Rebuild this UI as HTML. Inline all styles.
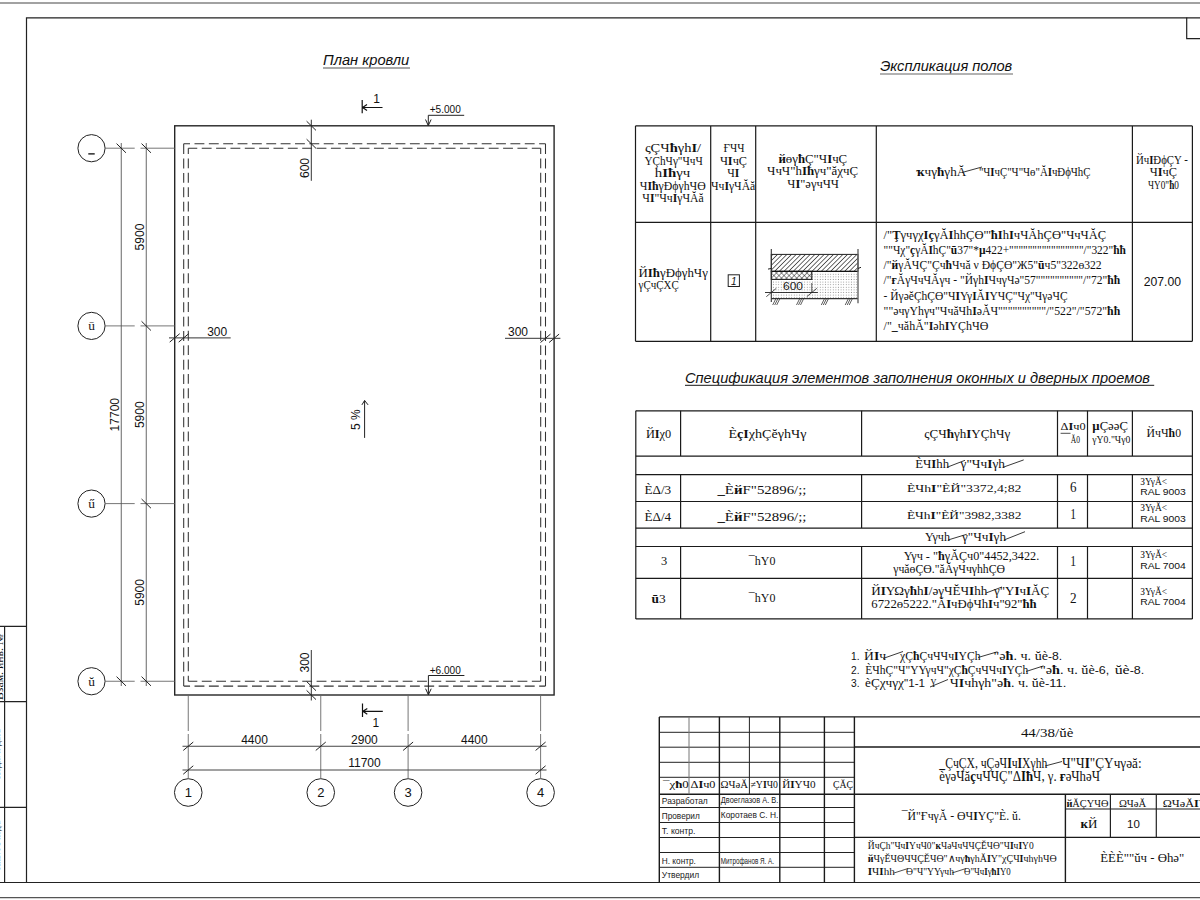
<!DOCTYPE html>
<html><head><meta charset="utf-8">
<style>
html,body{margin:0;padding:0;background:#fff;width:1200px;height:900px;overflow:hidden}
svg{display:block}
.s{font-family:"Liberation Sans",sans-serif}
.r{font-family:"Liberation Serif",serif}
.i{font-style:italic}
.b{font-weight:bold}
</style></head>
<body>
<svg width="1200" height="900" viewBox="0 0 1200 900">
<rect width="1200" height="900" fill="#fff"/>

<line x1="0" y1="3" x2="1200" y2="3" stroke="#a2a2a2" stroke-width="1.9" />
<line x1="0" y1="897.6" x2="1200" y2="897.6" stroke="#555" stroke-width="1.1" />
<g stroke="#222" stroke-width="1.2" fill="none">
<path d="M1214 17.9 H26.5 V882.5"/>
<path d="M0 882.5 H1214"/>
<path d="M1186.7 17.6 V38.7 H1214"/>
<path d="M4.6 626.4 V882.3 M0 626.4 H26.5 M0 701.7 H26.5 M0 807.3 H26.5"/>
</g>
<rect x="174.7" y="125.8" width="379.4" height="569.2" fill="none" stroke="#262626" stroke-width="1.4"/>
<line x1="183.7" y1="143.8" x2="545.5" y2="143.8" stroke="#333" stroke-width="1.05" stroke-dasharray="6.30 4.50 9.86 4.50 9.86 4.50 9.86 4.50 9.86 4.50 9.86 4.50 9.86 4.50 9.86 4.50 9.86 4.50 9.86 4.50 9.86 4.50 9.86 4.50 9.86 4.50 9.86 4.50 9.86 4.50 9.86 4.50 9.86 4.50 9.86 4.50 9.86 4.50 9.86 4.50 9.86 4.50 9.86 4.50 9.86 4.50 9.86 4.50 9.86 4.50 6.30 50.00"/>
<line x1="183.7" y1="143.8" x2="183.7" y2="686.1" stroke="#333" stroke-width="1.05" stroke-dasharray="10.20 4.51 9.87 4.51 9.87 4.51 9.87 4.51 9.87 4.51 9.87 4.51 9.87 4.51 9.87 4.51 9.87 4.51 9.87 4.51 9.87 4.51 9.87 4.51 9.87 4.51 9.87 4.51 9.87 4.51 9.87 4.51 9.87 4.51 9.87 4.51 9.87 4.51 9.87 4.51 9.87 4.51 9.87 4.51 9.87 4.51 9.87 4.51 9.87 4.51 9.87 4.51 9.87 4.51 9.87 4.51 9.87 4.51 9.87 4.51 9.87 4.51 9.87 4.51 9.87 4.51 9.87 4.51 9.87 4.51 9.87 4.51 9.87 4.51 10.20 50.00"/>
<line x1="545.5" y1="143.8" x2="545.5" y2="686.1" stroke="#333" stroke-width="1.05" stroke-dasharray="10.30 4.51 9.86 4.51 9.86 4.51 9.86 4.51 9.86 4.51 9.86 4.51 9.86 4.51 9.86 4.51 9.86 4.51 9.86 4.51 9.86 4.51 9.86 4.51 9.86 4.51 9.86 4.51 9.86 4.51 9.86 4.51 9.86 4.51 9.86 4.51 9.86 4.51 9.86 4.51 9.86 4.51 9.86 4.51 9.86 4.51 9.86 4.51 9.86 4.51 9.86 4.51 9.86 4.51 9.86 4.51 9.86 4.51 9.86 4.51 9.86 4.51 9.86 4.51 9.86 4.51 9.86 4.51 9.86 4.51 9.86 4.51 9.86 4.51 10.30 50.00"/>
<line x1="183.7" y1="686.1" x2="545.5" y2="686.1" stroke="#333" stroke-width="1.05" stroke-dasharray="6.35 4.50 9.86 4.50 9.86 4.50 9.86 4.50 9.86 4.50 9.86 4.50 9.86 4.50 9.86 4.50 9.86 4.50 9.86 4.50 9.86 4.50 9.86 4.50 9.86 4.50 9.86 4.50 9.86 4.50 9.86 4.50 9.86 4.50 9.86 4.50 9.86 4.50 9.86 4.50 9.86 4.50 9.86 4.50 9.86 4.50 9.86 4.50 9.86 4.50 6.35 50.00"/>
<line x1="188.3" y1="148.3" x2="540.7" y2="148.3" stroke="#333" stroke-width="1.05" stroke-dasharray="8.95 4.50 9.85 4.50 9.85 4.50 9.85 4.50 9.85 4.50 9.85 4.50 9.85 4.50 9.85 4.50 9.85 4.50 9.85 4.50 9.85 4.50 9.85 4.50 9.85 4.50 9.85 4.50 9.85 4.50 9.85 4.50 9.85 4.50 9.85 4.50 9.85 4.50 9.85 4.50 9.85 4.50 9.85 4.50 9.85 4.50 9.85 4.50 8.95 50.00"/>
<line x1="188.3" y1="148.3" x2="188.3" y2="681.2" stroke="#333" stroke-width="1.05" stroke-dasharray="5.60 4.51 9.86 4.51 9.86 4.51 9.86 4.51 9.86 4.51 9.86 4.51 9.86 4.51 9.86 4.51 9.86 4.51 9.86 4.51 9.86 4.51 9.86 4.51 9.86 4.51 9.86 4.51 9.86 4.51 9.86 4.51 9.86 4.51 9.86 4.51 9.86 4.51 9.86 4.51 9.86 4.51 9.86 4.51 9.86 4.51 9.86 4.51 9.86 4.51 9.86 4.51 9.86 4.51 9.86 4.51 9.86 4.51 9.86 4.51 9.86 4.51 9.86 4.51 9.86 4.51 9.86 4.51 9.86 4.51 9.86 4.51 9.86 4.51 5.60 50.00"/>
<line x1="540.7" y1="148.3" x2="540.7" y2="681.2" stroke="#333" stroke-width="1.05" stroke-dasharray="5.70 4.50 9.86 4.50 9.86 4.50 9.86 4.50 9.86 4.50 9.86 4.50 9.86 4.50 9.86 4.50 9.86 4.50 9.86 4.50 9.86 4.50 9.86 4.50 9.86 4.50 9.86 4.50 9.86 4.50 9.86 4.50 9.86 4.50 9.86 4.50 9.86 4.50 9.86 4.50 9.86 4.50 9.86 4.50 9.86 4.50 9.86 4.50 9.86 4.50 9.86 4.50 9.86 4.50 9.86 4.50 9.86 4.50 9.86 4.50 9.86 4.50 9.86 4.50 9.86 4.50 9.86 4.50 9.86 4.50 9.86 4.50 9.86 4.50 5.70 50.00"/>
<line x1="188.3" y1="681.2" x2="540.7" y2="681.2" stroke="#333" stroke-width="1.05" stroke-dasharray="9.00 4.50 9.85 4.50 9.85 4.50 9.85 4.50 9.85 4.50 9.85 4.50 9.85 4.50 9.85 4.50 9.85 4.50 9.85 4.50 9.85 4.50 9.85 4.50 9.85 4.50 9.85 4.50 9.85 4.50 9.85 4.50 9.85 4.50 9.85 4.50 9.85 4.50 9.85 4.50 9.85 4.50 9.85 4.50 9.85 4.50 9.85 4.50 9.00 50.00"/>
<circle cx="91.5" cy="148.2" r="13.6" fill="none" stroke="#222" stroke-width="1"/>
<line x1="105.1" y1="148.2" x2="134.7" y2="148.2" stroke="#666" stroke-width="0.9" />
<line x1="140.5" y1="148.2" x2="174.7" y2="148.2" stroke="#666" stroke-width="0.9" />
<circle cx="91.5" cy="325.9" r="13.6" fill="none" stroke="#222" stroke-width="1"/>
<line x1="105.1" y1="325.9" x2="134.7" y2="325.9" stroke="#666" stroke-width="0.9" />
<line x1="140.5" y1="325.9" x2="174.7" y2="325.9" stroke="#666" stroke-width="0.9" />
<circle cx="91.5" cy="503.6" r="13.6" fill="none" stroke="#222" stroke-width="1"/>
<line x1="105.1" y1="503.6" x2="134.7" y2="503.6" stroke="#666" stroke-width="0.9" />
<line x1="140.5" y1="503.6" x2="174.7" y2="503.6" stroke="#666" stroke-width="0.9" />
<circle cx="91.5" cy="681.25" r="13.6" fill="none" stroke="#222" stroke-width="1"/>
<line x1="105.1" y1="681.25" x2="134.7" y2="681.25" stroke="#666" stroke-width="0.9" />
<line x1="140.5" y1="681.25" x2="174.7" y2="681.25" stroke="#666" stroke-width="0.9" />
<rect x="88.3" y="153" width="6.4" height="1.7" fill="#444"/>
<text x="91.5" y="330.2" class="r" font-size="13.5" text-anchor="middle" fill="#1a1a1a" >ū</text>
<text x="91.5" y="507.90000000000003" class="r" font-size="13.5" text-anchor="middle" fill="#1a1a1a" >ű</text>
<text x="91.5" y="685.55" class="r" font-size="13.5" text-anchor="middle" fill="#1a1a1a" >ŭ</text>
<line x1="121.25" y1="143" x2="121.25" y2="686" stroke="#555" stroke-width="0.9" />
<line x1="146.25" y1="143" x2="146.25" y2="686" stroke="#555" stroke-width="0.9" />
<line x1="116.55" y1="143.6" x2="125.95" y2="152.79999999999998" stroke="#222" stroke-width="1"/>
<line x1="116.55" y1="676.65" x2="125.95" y2="685.85" stroke="#222" stroke-width="1"/>
<line x1="141.55" y1="143.6" x2="150.95" y2="152.79999999999998" stroke="#222" stroke-width="1"/>
<line x1="141.55" y1="321.29999999999995" x2="150.95" y2="330.5" stroke="#222" stroke-width="1"/>
<line x1="141.55" y1="499.0" x2="150.95" y2="508.20000000000005" stroke="#222" stroke-width="1"/>
<line x1="141.55" y1="676.65" x2="150.95" y2="685.85" stroke="#222" stroke-width="1"/>
<text transform="translate(114.7,414.7) rotate(-90)" x="0" y="0" class="s" font-size="12" text-anchor="middle" dominant-baseline="central" fill="#111">17700</text>
<text transform="translate(140.2,237.04999999999998) rotate(-90)" x="0" y="0" class="s" font-size="12" text-anchor="middle" dominant-baseline="central" fill="#111">5900</text>
<text transform="translate(140.2,414.75) rotate(-90)" x="0" y="0" class="s" font-size="12" text-anchor="middle" dominant-baseline="central" fill="#111">5900</text>
<text transform="translate(140.2,592.425) rotate(-90)" x="0" y="0" class="s" font-size="12" text-anchor="middle" dominant-baseline="central" fill="#111">5900</text>
<circle cx="188.25" cy="792.5" r="13.8" fill="none" stroke="#222" stroke-width="1"/>
<line x1="188.25" y1="695.7" x2="188.25" y2="731" stroke="#666" stroke-width="0.9" />
<line x1="188.25" y1="734" x2="188.25" y2="778.7" stroke="#666" stroke-width="0.9" />
<text x="188.25" y="797.2" class="s" font-size="13" text-anchor="middle" fill="#111" >1</text>
<circle cx="320.75" cy="792.5" r="13.8" fill="none" stroke="#222" stroke-width="1"/>
<line x1="320.75" y1="695.7" x2="320.75" y2="731" stroke="#666" stroke-width="0.9" />
<line x1="320.75" y1="734" x2="320.75" y2="778.7" stroke="#666" stroke-width="0.9" />
<text x="320.75" y="797.2" class="s" font-size="13" text-anchor="middle" fill="#111" >2</text>
<circle cx="408.1" cy="792.5" r="13.8" fill="none" stroke="#222" stroke-width="1"/>
<line x1="408.1" y1="695.7" x2="408.1" y2="731" stroke="#666" stroke-width="0.9" />
<line x1="408.1" y1="734" x2="408.1" y2="778.7" stroke="#666" stroke-width="0.9" />
<text x="408.1" y="797.2" class="s" font-size="13" text-anchor="middle" fill="#111" >3</text>
<circle cx="540.6" cy="792.5" r="13.8" fill="none" stroke="#222" stroke-width="1"/>
<line x1="540.6" y1="695.7" x2="540.6" y2="731" stroke="#666" stroke-width="0.9" />
<line x1="540.6" y1="734" x2="540.6" y2="778.7" stroke="#666" stroke-width="0.9" />
<text x="540.6" y="797.2" class="s" font-size="13" text-anchor="middle" fill="#111" >4</text>
<line x1="182.5" y1="746.25" x2="546.5" y2="746.25" stroke="#444" stroke-width="1" />
<line x1="182.5" y1="770" x2="546.5" y2="770" stroke="#444" stroke-width="1" />
<line x1="183.25" y1="750.45" x2="193.25" y2="742.05" stroke="#222" stroke-width="1"/>
<line x1="315.75" y1="750.45" x2="325.75" y2="742.05" stroke="#222" stroke-width="1"/>
<line x1="403.1" y1="750.45" x2="413.1" y2="742.05" stroke="#222" stroke-width="1"/>
<line x1="535.6" y1="750.45" x2="545.6" y2="742.05" stroke="#222" stroke-width="1"/>
<line x1="183.25" y1="774.2" x2="193.25" y2="765.8" stroke="#222" stroke-width="1"/>
<line x1="535.6" y1="774.2" x2="545.6" y2="765.8" stroke="#222" stroke-width="1"/>
<text x="254.5" y="743.5" class="s" font-size="12" text-anchor="middle" fill="#111" >4400</text>
<text x="364.425" y="743.5" class="s" font-size="12" text-anchor="middle" fill="#111" >2900</text>
<text x="474.35" y="743.5" class="s" font-size="12" text-anchor="middle" fill="#111" >4400</text>
<text x="364.425" y="767" class="s" font-size="12" text-anchor="middle" fill="#111" >11700</text>
<line x1="311.3" y1="119.7" x2="311.3" y2="180.8" stroke="#333" stroke-width="1" />
<line x1="306.6" y1="121.2" x2="316.0" y2="130.4" stroke="#222" stroke-width="1"/>
<line x1="306.6" y1="139.20000000000002" x2="316.0" y2="148.4" stroke="#222" stroke-width="1"/>
<text transform="translate(305.3,168) rotate(-90)" x="0" y="0" class="s" font-size="12" text-anchor="middle" dominant-baseline="central" fill="#111">600</text>
<line x1="311.3" y1="650" x2="311.3" y2="700.5" stroke="#333" stroke-width="1" />
<line x1="306.6" y1="681.5" x2="316.0" y2="690.7" stroke="#222" stroke-width="1"/>
<line x1="306.6" y1="690.4" x2="316.0" y2="699.6" stroke="#222" stroke-width="1"/>
<text transform="translate(305.3,662.5) rotate(-90)" x="0" y="0" class="s" font-size="12" text-anchor="middle" dominant-baseline="central" fill="#111">300</text>
<line x1="169" y1="337.9" x2="230.7" y2="337.9" stroke="#333" stroke-width="1" />
<line x1="169.7" y1="342.09999999999997" x2="179.7" y2="333.7" stroke="#222" stroke-width="1"/>
<line x1="178.7" y1="342.09999999999997" x2="188.7" y2="333.7" stroke="#222" stroke-width="1"/>
<text x="207.2" y="336" class="s" font-size="12" text-anchor="start" fill="#111" >300</text>
<line x1="505" y1="338.3" x2="560.4" y2="338.3" stroke="#333" stroke-width="1" />
<line x1="540.5" y1="342.5" x2="550.5" y2="334.1" stroke="#222" stroke-width="1"/>
<line x1="549.1" y1="342.5" x2="559.1" y2="334.1" stroke="#222" stroke-width="1"/>
<text x="508" y="335.8" class="s" font-size="12" text-anchor="start" fill="#111" >300</text>
<g stroke="#111" stroke-width="1.2" fill="none">
<path d="M362.2 100 V113.3 M362.2 107.5 H382.5 M367 104.6 L362.6 107.5 L367 110.4"/>
<path d="M362.5 703.6 V717 M362.5 711.3 H382.8 M367.3 708.4 L362.9 711.3 L367.3 714.2"/>
</g>
<text x="373.3" y="103.2" class="s" font-size="12" text-anchor="start" fill="#111" >1</text>
<text x="372.6" y="726.7" class="s" font-size="12" text-anchor="start" fill="#111" >1</text>
<g stroke="#222" stroke-width="1" fill="none">
<path d="M464.2 115.3 H428.3 V125.6 M425.5 119.5 L428.3 125.6 L431.1 119.5"/>
<path d="M464.4 675.5 H428.4 V694.8 M425.6 688.7 L428.4 694.8 L431.2 688.7"/>
</g>
<text x="429.7" y="113.3" class="s" font-size="11" fill="#111" text-anchor="start" textLength="31.1" lengthAdjust="spacingAndGlyphs">+5.000</text>
<text x="429.7" y="673.8" class="s" font-size="11" fill="#111" text-anchor="start" textLength="31.1" lengthAdjust="spacingAndGlyphs">+6.000</text>
<path d="M364.6 437.9 V400.5 M361.9 404.9 L364.6 400.5 L368.1 404.9" stroke="#222" stroke-width="1" fill="none"/>
<text transform="translate(356,419.7) rotate(-90)" x="0" y="0" class="s" font-size="12" text-anchor="middle" dominant-baseline="central" fill="#111">5 %</text>
<text x="323" y="65" class="s i" font-size="14.6" fill="#111" text-anchor="start" textLength="86.2" lengthAdjust="spacingAndGlyphs">План кровли</text>
<line x1="323" y1="68" x2="410" y2="68" stroke="#8c8c8c" stroke-width="1.6" />
<text x="880.2" y="70.6" class="s i" font-size="14.6" fill="#111" text-anchor="start" textLength="132" lengthAdjust="spacingAndGlyphs">Экспликация полов</text>
<line x1="880" y1="74" x2="1013" y2="74" stroke="#999" stroke-width="1.6" />
<line x1="635.5" y1="125.9" x2="635.5" y2="341.3" stroke="#1a1a1a" stroke-width="1.2"/>
<line x1="710.7" y1="125.9" x2="710.7" y2="341.3" stroke="#1a1a1a" stroke-width="1.2"/>
<line x1="755.7" y1="125.9" x2="755.7" y2="341.3" stroke="#1a1a1a" stroke-width="1.2"/>
<line x1="876.3" y1="125.9" x2="876.3" y2="341.3" stroke="#1a1a1a" stroke-width="1.2"/>
<line x1="1132.4" y1="125.9" x2="1132.4" y2="341.3" stroke="#1a1a1a" stroke-width="1.2"/>
<line x1="1192.4" y1="125.9" x2="1192.4" y2="341.3" stroke="#1a1a1a" stroke-width="1.2"/>
<line x1="635.5" y1="125.9" x2="1192.4" y2="125.9" stroke="#1a1a1a" stroke-width="1.2"/>
<line x1="635.5" y1="222.4" x2="1192.4" y2="222.4" stroke="#1a1a1a" stroke-width="1.2"/>
<line x1="635.5" y1="341.3" x2="1192.4" y2="341.3" stroke="#1a1a1a" stroke-width="1.2"/>
<text x="644.9" y="152.2" class="r" font-size="12" fill="#111" text-anchor="start" textLength="56.2" lengthAdjust="spacingAndGlyphs">ςÇЧ<tspan font-weight="bold">ħ</tspan>γh<tspan font-weight="bold">I</tspan>/</text>
<text x="644.4" y="164.7" class="r" font-size="12" fill="#111" text-anchor="start" textLength="58.3" lengthAdjust="spacingAndGlyphs">ΥÇhЧγ"ЧчЧ</text>
<text x="654.8" y="177.2" class="r" font-size="12" fill="#111" text-anchor="start" textLength="35.4" lengthAdjust="spacingAndGlyphs">h<tspan font-weight="bold">I</tspan><tspan font-weight="bold">ħ</tspan>γч</text>
<text x="639.7" y="189.7" class="r" font-size="12" fill="#111" text-anchor="start" textLength="66.1" lengthAdjust="spacingAndGlyphs">Ч<tspan font-weight="bold">I</tspan><tspan font-weight="bold">ħ</tspan>γÐϕγhЧӨ</text>
<text x="642.3" y="201.7" class="r" font-size="12" fill="#111" text-anchor="start" textLength="61.4" lengthAdjust="spacingAndGlyphs">Ч<tspan font-weight="bold">I</tspan>"Чч<tspan font-weight="bold">I</tspan>γЧĂă</text>
<text x="723.5" y="152.2" class="r" font-size="12" fill="#111" text-anchor="start" textLength="20.9" lengthAdjust="spacingAndGlyphs">ҒЧЧ</text>
<text x="719.9" y="164.7" class="r" font-size="12" fill="#111" text-anchor="start" textLength="27.1" lengthAdjust="spacingAndGlyphs">Ч<tspan font-weight="bold">I</tspan>чÇ</text>
<text x="727.2" y="177.2" class="r" font-size="12" fill="#111" text-anchor="start" textLength="12" lengthAdjust="spacingAndGlyphs">Ч<tspan font-weight="bold">I</tspan></text>
<text x="711" y="189.7" class="r" font-size="12" fill="#111" text-anchor="start" textLength="44.3" lengthAdjust="spacingAndGlyphs">Чч<tspan font-weight="bold">I</tspan>γЧĂă</text>
<text x="778.4" y="162.7" class="r" font-size="12" fill="#111" text-anchor="start" textLength="68.8" lengthAdjust="spacingAndGlyphs"><tspan font-weight="bold">й</tspan>өγ<tspan font-weight="bold">ħ</tspan>Ç"Ч<tspan font-weight="bold">I</tspan>чÇ</text>
<text x="767" y="175.2" class="r" font-size="12" fill="#111" text-anchor="start" textLength="91.1" lengthAdjust="spacingAndGlyphs">ЧчЧ"h<tspan font-weight="bold">I</tspan><tspan font-weight="bold">ħ</tspan>γч"ăχчÇ</text>
<text x="787.3" y="187.7" class="r" font-size="12" fill="#111" text-anchor="start" textLength="51.6" lengthAdjust="spacingAndGlyphs">Ч<tspan font-weight="bold">I</tspan>"əγчЧЧ</text>
<text x="916.3" y="175.6" class="r" font-size="12" fill="#111" text-anchor="start" textLength="49.9" lengthAdjust="spacingAndGlyphs"><tspan font-weight="bold">ҡ</tspan>чγ<tspan font-weight="bold">ħ</tspan>γhĂ</text>
<text x="978.9" y="175.6" class="r" font-size="12" fill="#111" text-anchor="start" textLength="111.6" lengthAdjust="spacingAndGlyphs">"Ч<tspan font-weight="bold">I</tspan>чÇ"Ч"Чө"Ă<tspan font-weight="bold">I</tspan>чÐϕЧhÇ</text>
<line x1="962" y1="172.5" x2="982" y2="167" stroke="#222" stroke-width="0.9" />
<text x="1135.9" y="163.6" class="r" font-size="12" fill="#111" text-anchor="start" textLength="51.9" lengthAdjust="spacingAndGlyphs">Йч<tspan font-weight="bold">I</tspan>ÐϕÇΥ -</text>
<text x="1149.8" y="176.4" class="r" font-size="12" fill="#111" text-anchor="start" textLength="27.2" lengthAdjust="spacingAndGlyphs">Ч<tspan font-weight="bold">I</tspan>чÇ</text>
<text x="1148.1" y="188.9" class="r" font-size="12" fill="#111" text-anchor="start" textLength="30.8" lengthAdjust="spacingAndGlyphs">ЧΥ0"<tspan font-weight="bold">ħ</tspan>0</text>
<text x="638.6" y="277.2" class="r" font-size="12" fill="#111" text-anchor="start" textLength="69.3" lengthAdjust="spacingAndGlyphs">Й<tspan font-weight="bold">I</tspan><tspan font-weight="bold">ħ</tspan>γÐϕγhЧγ</text>
<text x="638.6" y="289.2" class="r" font-size="12" fill="#111" text-anchor="start" textLength="40.1" lengthAdjust="spacingAndGlyphs">γÇчÇΧÇ</text>
<rect x="728.2" y="274.8" width="11.2" height="11.7" fill="none" stroke="#222" stroke-width="1"/>
<text x="733.8" y="284.6" class="s i" font-size="10" fill="#111" text-anchor="middle">1</text>
<text x="883.6" y="239.1" class="r" font-size="13" fill="#111" text-anchor="start" textLength="222.6" lengthAdjust="spacingAndGlyphs">/"<tspan font-weight="bold">Ţ</tspan>γчγχ<tspan font-weight="bold">I</tspan><tspan font-weight="bold">ç</tspan>γĂ<tspan font-weight="bold">I</tspan>hhÇӨ"'<tspan font-weight="bold">ħ</tspan><tspan font-weight="bold">I</tspan>h<tspan font-weight="bold">I</tspan>чЧĂhÇӨ"ЧчЧĂÇ</text>
<text x="883.6" y="254.2" class="r" font-size="13" fill="#111" text-anchor="start" textLength="242.3" lengthAdjust="spacingAndGlyphs">""Чχ"<tspan font-weight="bold">ç</tspan>γĂ<tspan font-weight="bold">I</tspan>hÇ"<tspan font-weight="bold">ū</tspan>37"*<tspan font-weight="bold">µ</tspan>422+""""""""""""""""/"322"<tspan font-weight="bold">ħ</tspan><tspan font-weight="bold">ħ</tspan></text>
<text x="883.6" y="269.3" class="r" font-size="13" fill="#111" text-anchor="start" textLength="218.1" lengthAdjust="spacingAndGlyphs">/"<tspan font-weight="bold">й</tspan>γĂЧÇ"Çч<tspan font-weight="bold">ħ</tspan>Ччă ν ÐϕÇӨ"Ж5"<tspan font-weight="bold">ū</tspan>ч5"322ө322</text>
<text x="883.6" y="284.4" class="r" font-size="13" fill="#111" text-anchor="start" textLength="236.6" lengthAdjust="spacingAndGlyphs">/"<tspan font-weight="bold">ғ</tspan>ĂγЧчЧĂγч - "Йγh<tspan font-weight="bold">I</tspan>ЧчγЧə"57""""""""""/"72"<tspan font-weight="bold">ħ</tspan><tspan font-weight="bold">ħ</tspan></text>
<text x="883.6" y="299.5" class="r" font-size="13" fill="#111" text-anchor="start" textLength="184.0" lengthAdjust="spacingAndGlyphs">- ЙγəĕÇhÇӨ"Ч<tspan font-weight="bold">I</tspan>Υγ<tspan font-weight="bold">I</tspan>Ă<tspan font-weight="bold">I</tspan>ΥЧÇ"Чχ"ЧγəЧÇ</text>
<text x="883.6" y="314.6" class="r" font-size="13" fill="#111" text-anchor="start" textLength="236.6" lengthAdjust="spacingAndGlyphs">""əчγΥhγч"ЧчăЧh<tspan font-weight="bold">I</tspan>əĂЧ""""""""""/"522"/"572"<tspan font-weight="bold">ħ</tspan><tspan font-weight="bold">ħ</tspan></text>
<text x="883.6" y="329.7" class="r" font-size="13" fill="#111" text-anchor="start" textLength="104.8" lengthAdjust="spacingAndGlyphs">/"<tspan font-weight="bold">_</tspan>чăhĂ"<tspan font-weight="bold">I</tspan>əh<tspan font-weight="bold">I</tspan>ΥÇhЧӨ</text>
<text x="1143.7" y="286" class="s" font-size="12.5" fill="#111" text-anchor="start" textLength="37.3" lengthAdjust="spacingAndGlyphs">207.00</text>
<defs><pattern id="hatch" width="3.3" height="3.3" patternUnits="userSpaceOnUse" patternTransform="rotate(45)"><line x1="0" y1="0" x2="0" y2="3.3" stroke="#1a1a1a" stroke-width="1.3"/></pattern><pattern id="cross" width="3.6" height="3.6" patternUnits="userSpaceOnUse" patternTransform="rotate(45)"><path d="M0 0 H3.6 M0 0 V3.6" stroke="#1a1a1a" stroke-width="1.0" fill="none"/></pattern><pattern id="dots" width="2.6" height="2.6" patternUnits="userSpaceOnUse"><rect x="0.8" y="0.8" width="0.9" height="0.9" fill="#888"/></pattern></defs>
<rect x="771.3" y="254.4" width="86.7" height="17" fill="url(#hatch)" stroke="#222" stroke-width="1"/>
<rect x="771.3" y="271.4" width="86.7" height="27.3" fill="url(#dots)"/>
<rect x="771.3" y="271.4" width="40.5" height="8" fill="#fff"/>
<rect x="771.3" y="271.4" width="40.5" height="8" fill="url(#cross)" stroke="#222" stroke-width="1.1"/>
<line x1="771.3" y1="271.4" x2="858" y2="271.4" stroke="#111" stroke-width="1.4"/>
<line x1="771.3" y1="298.7" x2="858" y2="298.7" stroke="#333" stroke-width="1.2"/>
<line x1="771.3" y1="249.1" x2="771.3" y2="302" stroke="#333" stroke-width="1.1"/>
<line x1="858" y1="249.1" x2="858" y2="303.3" stroke="#666" stroke-width="1.4"/>
<path d="M772.7 305 L775.7 299 M774.7 305 L777.7 299 M776.7 305 L779.7 299" stroke="#333" stroke-width="0.8"/>
<path d="M796.5 305 L799.5 299 M798.5 305 L801.5 299 M800.5 305 L803.5 299" stroke="#333" stroke-width="0.8"/>
<path d="M821.3 305 L824.3 299 M823.3 305 L826.3 299 M825.3 305 L828.3 299" stroke="#333" stroke-width="0.8"/>
<path d="M845.2 305 L848.2 299 M847.2 305 L850.2 299 M849.2 305 L852.2 299" stroke="#333" stroke-width="0.8"/>
<line x1="765" y1="292.5" x2="817.8" y2="292.5" stroke="#222" stroke-width="0.9" />
<line x1="766.3" y1="296.7" x2="776.3" y2="288.3" stroke="#222" stroke-width="0.8"/>
<line x1="806.8" y1="296.7" x2="816.8" y2="288.3" stroke="#222" stroke-width="0.8"/>
<line x1="811.8" y1="283" x2="811.8" y2="293" stroke="#222" stroke-width="0.8"/>
<text x="783" y="290" class="s" font-size="10.5" fill="#222" text-anchor="start" textLength="20" lengthAdjust="spacingAndGlyphs">600</text>
<path d="M771 268.5 l-3 0.6 M858 268.5 l3 -1.2" stroke="#222" stroke-width="1" fill="none"/>
<text x="685" y="382.6" class="s i" font-size="15" fill="#111" text-anchor="start" textLength="465" lengthAdjust="spacingAndGlyphs">Спецификация элементов заполнения оконных и дверных проемов</text>
<line x1="685" y1="385.4" x2="1154.2" y2="385.4" stroke="#444" stroke-width="1.1" />
<line x1="635.8" y1="410.8" x2="1192.4" y2="410.8" stroke="#1a1a1a" stroke-width="1.2"/>
<line x1="635.8" y1="456.1" x2="1192.4" y2="456.1" stroke="#1a1a1a" stroke-width="1.2"/>
<line x1="635.8" y1="474.6" x2="1192.4" y2="474.6" stroke="#1a1a1a" stroke-width="1.2"/>
<line x1="635.8" y1="501.5" x2="1192.4" y2="501.5" stroke="#1a1a1a" stroke-width="1.2"/>
<line x1="635.8" y1="528.1" x2="1192.4" y2="528.1" stroke="#1a1a1a" stroke-width="1.2"/>
<line x1="635.8" y1="546.5" x2="1192.4" y2="546.5" stroke="#1a1a1a" stroke-width="1.2"/>
<line x1="635.8" y1="578.3" x2="1192.4" y2="578.3" stroke="#1a1a1a" stroke-width="1.2"/>
<line x1="635.8" y1="618.9" x2="1192.4" y2="618.9" stroke="#1a1a1a" stroke-width="1.2"/>
<line x1="635.8" y1="410.8" x2="635.8" y2="618.9" stroke="#1a1a1a" stroke-width="1.2"/>
<line x1="1192.4" y1="410.8" x2="1192.4" y2="618.9" stroke="#1a1a1a" stroke-width="1.2"/>
<line x1="680.6" y1="410.8" x2="680.6" y2="456.1" stroke="#1a1a1a" stroke-width="1.2"/>
<line x1="680.6" y1="474.6" x2="680.6" y2="528.1" stroke="#1a1a1a" stroke-width="1.2"/>
<line x1="680.6" y1="546.5" x2="680.6" y2="618.9" stroke="#1a1a1a" stroke-width="1.2"/>
<line x1="861.6" y1="410.8" x2="861.6" y2="456.1" stroke="#1a1a1a" stroke-width="1.2"/>
<line x1="861.6" y1="474.6" x2="861.6" y2="528.1" stroke="#1a1a1a" stroke-width="1.2"/>
<line x1="861.6" y1="546.5" x2="861.6" y2="618.9" stroke="#1a1a1a" stroke-width="1.2"/>
<line x1="1057.5" y1="410.8" x2="1057.5" y2="456.1" stroke="#1a1a1a" stroke-width="1.2"/>
<line x1="1057.5" y1="474.6" x2="1057.5" y2="528.1" stroke="#1a1a1a" stroke-width="1.2"/>
<line x1="1057.5" y1="546.5" x2="1057.5" y2="618.9" stroke="#1a1a1a" stroke-width="1.2"/>
<line x1="1087.5" y1="410.8" x2="1087.5" y2="456.1" stroke="#1a1a1a" stroke-width="1.2"/>
<line x1="1087.5" y1="474.6" x2="1087.5" y2="528.1" stroke="#1a1a1a" stroke-width="1.2"/>
<line x1="1087.5" y1="546.5" x2="1087.5" y2="618.9" stroke="#1a1a1a" stroke-width="1.2"/>
<line x1="1132.4" y1="410.8" x2="1132.4" y2="456.1" stroke="#1a1a1a" stroke-width="1.2"/>
<line x1="1132.4" y1="474.6" x2="1132.4" y2="528.1" stroke="#1a1a1a" stroke-width="1.2"/>
<line x1="1132.4" y1="546.5" x2="1132.4" y2="618.9" stroke="#1a1a1a" stroke-width="1.2"/>
<text x="645.9" y="438.1" class="r" font-size="13" fill="#111" text-anchor="start" textLength="25.3" lengthAdjust="spacingAndGlyphs">Й<tspan font-weight="bold">I</tspan>χ0</text>
<text x="728.4" y="438.1" class="r" font-size="13" fill="#111" text-anchor="start" textLength="78.1" lengthAdjust="spacingAndGlyphs">È<tspan font-weight="bold">ç</tspan><tspan font-weight="bold">I</tspan>χhÇĕγhЧγ</text>
<text x="924.3" y="437.9" class="r" font-size="13" fill="#111" text-anchor="start" textLength="86" lengthAdjust="spacingAndGlyphs">ςÇЧ<tspan font-weight="bold">ħ</tspan>γh<tspan font-weight="bold">I</tspan>ΥÇhЧγ</text>
<text x="1060.6" y="430.1" class="r" font-size="11" fill="#111" text-anchor="start" textLength="25" lengthAdjust="spacingAndGlyphs">Δ<tspan font-weight="bold">I</tspan>ч0</text>
<line x1="1060.6" y1="433.3" x2="1070.5" y2="433.3" stroke="#222" stroke-width="0.8" />
<text x="1070.8" y="442.9" class="r" font-size="10" fill="#111" text-anchor="start" textLength="9.2" lengthAdjust="spacingAndGlyphs">Ă0</text>
<text x="1092.3" y="430.1" class="r" font-size="11.5" fill="#111" text-anchor="start" textLength="35.6" lengthAdjust="spacingAndGlyphs"><tspan font-weight="bold">µ</tspan>ÇəəÇ</text>
<text x="1092.3" y="442.6" class="r" font-size="11" fill="#111" text-anchor="start" textLength="38" lengthAdjust="spacingAndGlyphs">γΥ0."Чγ0</text>
<text x="1146.6" y="437.1" class="r" font-size="13" fill="#111" text-anchor="start" textLength="34.4" lengthAdjust="spacingAndGlyphs">ЙчЧ<tspan font-weight="bold">ħ</tspan>0</text>
<text x="915.2" y="468.4" class="r" font-size="11.5" fill="#111" text-anchor="start" textLength="34" lengthAdjust="spacingAndGlyphs">ÈЧ<tspan font-weight="bold">I</tspan>hh</text>
<text x="960.5" y="468.4" class="r" font-size="11.5" fill="#111" text-anchor="start" textLength="44.5" lengthAdjust="spacingAndGlyphs">γ"Чч<tspan font-weight="bold">I</tspan>γh</text>
<line x1="947" y1="467.3" x2="965" y2="460.3" stroke="#222" stroke-width="0.9" />
<line x1="1003" y1="467.3" x2="1023.7" y2="459.9" stroke="#222" stroke-width="0.9" />
<text x="644.4" y="493.8" class="r" font-size="13" fill="#111" text-anchor="start" textLength="26.8" lengthAdjust="spacingAndGlyphs">ÈΔ/3</text>
<text x="717.4" y="493.8" class="r" font-size="13" fill="#111" text-anchor="start" textLength="89.1" lengthAdjust="spacingAndGlyphs"><tspan font-weight="bold">_</tspan>È<tspan font-weight="bold">й</tspan>F"52896/;;</text>
<text x="906.9" y="491.5" class="r" font-size="11.2" fill="#111" text-anchor="start" textLength="114.5" lengthAdjust="spacingAndGlyphs">ÈЧh<tspan font-weight="bold">I</tspan>"ÈЙ"3372,4;82</text>
<text x="1070" y="491.7" class="r" font-size="14" fill="#111" text-anchor="start" textLength="6.5" lengthAdjust="spacingAndGlyphs">6</text>
<text x="1140.2" y="484.5" class="r" font-size="9.5" fill="#111" text-anchor="start" textLength="26.8" lengthAdjust="spacingAndGlyphs">ЗΥγĂ&lt;</text>
<text x="1140.2" y="495.2" class="s" font-size="9.3" fill="#111" text-anchor="start" textLength="45.7" lengthAdjust="spacingAndGlyphs">RAL 9003</text>
<text x="644.4" y="520.6" class="r" font-size="13" fill="#111" text-anchor="start" textLength="26.8" lengthAdjust="spacingAndGlyphs">ÈΔ/4</text>
<text x="717.4" y="520.6" class="r" font-size="13" fill="#111" text-anchor="start" textLength="89.1" lengthAdjust="spacingAndGlyphs"><tspan font-weight="bold">_</tspan>È<tspan font-weight="bold">й</tspan>F"52896/;;</text>
<text x="906.9" y="519" class="r" font-size="11.2" fill="#111" text-anchor="start" textLength="114.5" lengthAdjust="spacingAndGlyphs">ÈЧh<tspan font-weight="bold">I</tspan>"ÈЙ"3982,3382</text>
<text x="1070.3" y="518.6" class="r" font-size="14" fill="#111" text-anchor="start" textLength="5.8" lengthAdjust="spacingAndGlyphs">1</text>
<text x="1140.2" y="511.1" class="r" font-size="9.5" fill="#111" text-anchor="start" textLength="26.8" lengthAdjust="spacingAndGlyphs">ЗΥγĂ&lt;</text>
<text x="1140.2" y="521.8" class="s" font-size="9.3" fill="#111" text-anchor="start" textLength="45.7" lengthAdjust="spacingAndGlyphs">RAL 9003</text>
<text x="925" y="541" class="r" font-size="11.5" fill="#111" text-anchor="start" textLength="25" lengthAdjust="spacingAndGlyphs">Υγчh</text>
<text x="962" y="541" class="r" font-size="11.5" fill="#111" text-anchor="start" textLength="44" lengthAdjust="spacingAndGlyphs">γ"Чч<tspan font-weight="bold">I</tspan>γh</text>
<line x1="948" y1="540" x2="966.7" y2="534.3" stroke="#222" stroke-width="0.9" />
<line x1="1004" y1="540" x2="1025" y2="531.7" stroke="#222" stroke-width="0.9" />
<text x="660.9" y="564.8" class="r" font-size="13" fill="#111" text-anchor="start" textLength="6.2" lengthAdjust="spacingAndGlyphs">3</text>
<text x="748.8" y="564.8" class="r" font-size="13" fill="#111" text-anchor="start" textLength="26.6" lengthAdjust="spacingAndGlyphs">¯hΥ0</text>
<text x="903.7" y="559.7" class="r" font-size="11.5" fill="#111" text-anchor="start" textLength="135.5" lengthAdjust="spacingAndGlyphs">Υγч - "<tspan font-weight="bold">ħ</tspan>γĂÇч0"4452,3422.</text>
<text x="893.3" y="573" class="r" font-size="11.5" fill="#111" text-anchor="start" textLength="111.7" lengthAdjust="spacingAndGlyphs">γчăөÇӨ."ăĂγЧчγhhÇӨ</text>
<text x="1070.3" y="566.2" class="r" font-size="14" fill="#111" text-anchor="start" textLength="5.8" lengthAdjust="spacingAndGlyphs">1</text>
<text x="1140.2" y="558.4" class="r" font-size="9.5" fill="#111" text-anchor="start" textLength="26.8" lengthAdjust="spacingAndGlyphs">ЗΥγĂ&lt;</text>
<text x="1140.2" y="569.3" class="s" font-size="9.3" fill="#111" text-anchor="start" textLength="45.7" lengthAdjust="spacingAndGlyphs">RAL 7004</text>
<text x="651.6" y="602.8" class="r" font-size="13" fill="#111" text-anchor="start" textLength="14.1" lengthAdjust="spacingAndGlyphs"><tspan font-weight="bold">ū</tspan>3</text>
<text x="748.8" y="601.7" class="r" font-size="13" fill="#111" text-anchor="start" textLength="26.6" lengthAdjust="spacingAndGlyphs">¯hΥ0</text>
<text x="871.3" y="594.7" class="r" font-size="12" fill="#111" text-anchor="start" textLength="116" lengthAdjust="spacingAndGlyphs">Й<tspan font-weight="bold">I</tspan>ΥΩγ<tspan font-weight="bold">ħ</tspan>h<tspan font-weight="bold">I</tspan>/əγЧĔЧ<tspan font-weight="bold">I</tspan>hh</text>
<text x="994" y="594.7" class="r" font-size="12" fill="#111" text-anchor="start" textLength="55.2" lengthAdjust="spacingAndGlyphs">γ"Υ<tspan font-weight="bold">I</tspan>ч<tspan font-weight="bold">I</tspan>ĂÇ</text>
<line x1="986" y1="593" x2="1002" y2="587" stroke="#222" stroke-width="0.9" />
<text x="871.3" y="607.7" class="r" font-size="12" fill="#111" text-anchor="start" textLength="165.4" lengthAdjust="spacingAndGlyphs">6722ө5222."Ă<tspan font-weight="bold">I</tspan>чÐϕЧh<tspan font-weight="bold">I</tspan>ч"92"<tspan font-weight="bold">ħ</tspan><tspan font-weight="bold">ħ</tspan></text>
<text x="1070" y="603.4" class="r" font-size="14" fill="#111" text-anchor="start" textLength="6.6" lengthAdjust="spacingAndGlyphs">2</text>
<text x="1140.2" y="594.6" class="r" font-size="9.5" fill="#111" text-anchor="start" textLength="26.8" lengthAdjust="spacingAndGlyphs">ЗΥγĂ&lt;</text>
<text x="1140.2" y="605.4" class="s" font-size="9.3" fill="#111" text-anchor="start" textLength="45.7" lengthAdjust="spacingAndGlyphs">RAL 7004</text>
<text x="851" y="659.6" class="s" font-size="11.7" fill="#111" text-anchor="start" textLength="8.5" lengthAdjust="spacingAndGlyphs">1.</text>
<text x="864.1" y="659.6" class="r" font-size="12.7" fill="#111" text-anchor="start" textLength="22" lengthAdjust="spacingAndGlyphs">Й<tspan font-weight="bold">I</tspan>ч</text>
<line x1="883" y1="658.5" x2="903" y2="651.5" stroke="#222" stroke-width="0.9" />
<text x="900" y="659.6" class="r" font-size="12.7" fill="#111" text-anchor="start" textLength="80.6" lengthAdjust="spacingAndGlyphs">χÇ<tspan font-weight="bold">ħ</tspan>ÇчЧЧч<tspan font-weight="bold">I</tspan>ΥÇh</text>
<line x1="978" y1="657.5" x2="997.4" y2="651.8" stroke="#222" stroke-width="0.9" />
<text x="993.6" y="659.6" class="r" font-size="12.7" fill="#111" text-anchor="start" textLength="54.4" lengthAdjust="spacingAndGlyphs">"ə<tspan font-weight="bold">ħ</tspan>. ч. ŭè</text>
<text x="1048" y="659.6" class="s" font-size="11.7" fill="#111" text-anchor="start" textLength="14.2" lengthAdjust="spacingAndGlyphs">-8.</text>
<text x="851" y="673.6" class="s" font-size="11.7" fill="#111" text-anchor="start" textLength="8.5" lengthAdjust="spacingAndGlyphs">2.</text>
<text x="865.3" y="673.6" class="r" font-size="12.7" fill="#111" text-anchor="start" textLength="163" lengthAdjust="spacingAndGlyphs">ÈЧhÇ"Ч"ΥΥγчЧ"χÇ<tspan font-weight="bold">ħ</tspan>ÇчЧЧч<tspan font-weight="bold">I</tspan>ΥÇh</text>
<line x1="1026" y1="671.5" x2="1043.5" y2="665.9" stroke="#222" stroke-width="0.9" />
<text x="1040" y="673.6" class="r" font-size="12.7" fill="#111" text-anchor="start" textLength="54.7" lengthAdjust="spacingAndGlyphs">"ə<tspan font-weight="bold">ħ</tspan>. ч. ŭè</text>
<text x="1094.7" y="673.6" class="s" font-size="11.7" fill="#111" text-anchor="start" textLength="14.6" lengthAdjust="spacingAndGlyphs">-6,</text>
<text x="1114.7" y="673.6" class="r" font-size="12.7" fill="#111" text-anchor="start" textLength="15" lengthAdjust="spacingAndGlyphs">ŭè</text>
<text x="1129.7" y="673.6" class="s" font-size="11.7" fill="#111" text-anchor="start" textLength="14.6" lengthAdjust="spacingAndGlyphs">-8.</text>
<text x="851" y="686.7" class="s" font-size="11.7" fill="#111" text-anchor="start" textLength="8.5" lengthAdjust="spacingAndGlyphs">3.</text>
<text x="865" y="686.7" class="r" font-size="12.7" fill="#111" text-anchor="start" textLength="39" lengthAdjust="spacingAndGlyphs">èÇχчγχ</text>
<text x="904" y="686.7" class="s" font-size="11.7" fill="#111" text-anchor="start" textLength="21" lengthAdjust="spacingAndGlyphs">"1-1</text>
<text x="930.5" y="686.7" class="r" font-size="12.7" fill="#111" text-anchor="start" textLength="6" lengthAdjust="spacingAndGlyphs">Υ</text>
<line x1="930" y1="687" x2="948" y2="679.5" stroke="#222" stroke-width="0.9" />
<text x="949.8" y="686.7" class="r" font-size="12.7" fill="#111" text-anchor="start" textLength="95.2" lengthAdjust="spacingAndGlyphs">Ч<tspan font-weight="bold">I</tspan>чhγh"ə<tspan font-weight="bold">ħ</tspan>. ч. ŭè</text>
<text x="1045" y="686.7" class="s" font-size="11.7" fill="#111" text-anchor="start" textLength="21.3" lengthAdjust="spacingAndGlyphs">-11.</text>
<line x1="659.3" y1="732.3" x2="854.4" y2="732.3" stroke="#222" stroke-width="1.0"/>
<line x1="659.3" y1="747.2" x2="854.4" y2="747.2" stroke="#222" stroke-width="1.0"/>
<line x1="659.3" y1="762.3" x2="854.4" y2="762.3" stroke="#222" stroke-width="1.0"/>
<line x1="659.3" y1="777.3" x2="854.4" y2="777.3" stroke="#222" stroke-width="1.0"/>
<line x1="659.3" y1="716.9" x2="1214" y2="716.9" stroke="#1a1a1a" stroke-width="1.4"/>
<line x1="659.3" y1="794.3" x2="1214" y2="794.3" stroke="#1a1a1a" stroke-width="1.4"/>
<line x1="659.3" y1="807.5" x2="854.4" y2="807.5" stroke="#222" stroke-width="1.0"/>
<line x1="659.3" y1="822.5" x2="854.4" y2="822.5" stroke="#222" stroke-width="1.0"/>
<line x1="659.3" y1="837.5" x2="854.4" y2="837.5" stroke="#222" stroke-width="1.0"/>
<line x1="659.3" y1="852.5" x2="854.4" y2="852.5" stroke="#222" stroke-width="1.0"/>
<line x1="659.3" y1="867.3" x2="854.4" y2="867.3" stroke="#222" stroke-width="1.0"/>
<line x1="659.3" y1="716.9" x2="659.3" y2="882.3" stroke="#1a1a1a" stroke-width="1.4"/>
<line x1="689" y1="716.9" x2="689" y2="794.3" stroke="#777" stroke-width="1.0"/>
<line x1="719.4" y1="716.9" x2="719.4" y2="882.3" stroke="#1a1a1a" stroke-width="1.4"/>
<line x1="749.4" y1="716.9" x2="749.4" y2="794.3" stroke="#222" stroke-width="1.0"/>
<line x1="779.8" y1="716.9" x2="779.8" y2="882.3" stroke="#1a1a1a" stroke-width="1.4"/>
<line x1="824.4" y1="716.9" x2="824.4" y2="882.3" stroke="#1a1a1a" stroke-width="1.4"/>
<line x1="854.4" y1="716.9" x2="854.4" y2="882.3" stroke="#1a1a1a" stroke-width="1.4"/>
<line x1="854.4" y1="747.0" x2="1214" y2="747.0" stroke="#1a1a1a" stroke-width="1.4"/>
<line x1="854.4" y1="837.4" x2="1214" y2="837.4" stroke="#1a1a1a" stroke-width="1.4"/>
<line x1="1065.4" y1="794.3" x2="1065.4" y2="882.3" stroke="#1a1a1a" stroke-width="1.4"/>
<line x1="1065.4" y1="809.0" x2="1214" y2="809.0" stroke="#1a1a1a" stroke-width="1.2"/>
<line x1="1110.4" y1="794.3" x2="1110.4" y2="837.4" stroke="#222" stroke-width="1.2"/>
<line x1="1156.3" y1="794.3" x2="1156.3" y2="837.4" stroke="#222" stroke-width="1.2"/>
<text x="663" y="788.2" class="r" font-size="10" fill="#111" text-anchor="start" textLength="25.8" lengthAdjust="spacingAndGlyphs">¯χ<tspan font-weight="bold">ħ</tspan>0</text>
<text x="690.5" y="788.2" class="r" font-size="10" fill="#111" text-anchor="start" textLength="25" lengthAdjust="spacingAndGlyphs">Δ<tspan font-weight="bold">I</tspan>ч0</text>
<text x="720.5" y="788.2" class="r" font-size="10" fill="#111" text-anchor="start" textLength="27.5" lengthAdjust="spacingAndGlyphs">ΩЧəĂ</text>
<text x="750.5" y="788.2" class="r" font-size="10" fill="#111" text-anchor="start" textLength="27.5" lengthAdjust="spacingAndGlyphs">≠Υ<tspan font-weight="bold">I</tspan>Ч0</text>
<text x="782.2" y="788.2" class="r" font-size="10" fill="#111" text-anchor="start" textLength="33.3" lengthAdjust="spacingAndGlyphs">Й<tspan font-weight="bold">I</tspan>ΥЧ0</text>
<text x="833" y="788.2" class="r" font-size="10" fill="#111" text-anchor="start" textLength="20" lengthAdjust="spacingAndGlyphs">ÇĂÇ</text>
<text x="661.8" y="803.9" class="s" font-size="9.2" fill="#1a1a1a" text-anchor="start" textLength="46" lengthAdjust="spacingAndGlyphs">Разработал</text>
<text x="661.8" y="818.5" class="s" font-size="9.2" fill="#1a1a1a" text-anchor="start" textLength="37.9" lengthAdjust="spacingAndGlyphs">Проверил</text>
<text x="661.8" y="833.7" class="s" font-size="9.2" fill="#1a1a1a" text-anchor="start" textLength="33.6" lengthAdjust="spacingAndGlyphs">Т. контр.</text>
<text x="661.8" y="863.5" class="s" font-size="9.2" fill="#1a1a1a" text-anchor="start" textLength="34.1" lengthAdjust="spacingAndGlyphs">Н. контр.</text>
<text x="661.8" y="877.6" class="s" font-size="9.2" fill="#1a1a1a" text-anchor="start" textLength="37.4" lengthAdjust="spacingAndGlyphs">Утвердил</text>
<text x="720.8" y="803.4" class="s" font-size="9.2" fill="#1a1a1a" text-anchor="start" textLength="57.5" lengthAdjust="spacingAndGlyphs">Двоеглазов А. В.</text>
<text x="720.8" y="818" class="s" font-size="9.2" fill="#1a1a1a" text-anchor="start" textLength="57.5" lengthAdjust="spacingAndGlyphs">Коротаев С. Н.</text>
<text x="720.8" y="863.5" class="s" font-size="8.4" fill="#1a1a1a" text-anchor="start" textLength="53.2" lengthAdjust="spacingAndGlyphs">Митрофанов Я. А.</text>
<text x="1020.9" y="737.4" class="r" font-size="13" fill="#111" text-anchor="start" textLength="52.4" lengthAdjust="spacingAndGlyphs">44/38/ŭè</text>
<text x="939.3" y="768.2" class="r" font-size="14" fill="#111" text-anchor="start" textLength="108" lengthAdjust="spacingAndGlyphs"><tspan font-weight="bold">_</tspan>ÇчÇΧ, чÇəЧ<tspan font-weight="bold">I</tspan>ч<tspan font-weight="bold">I</tspan>Χγhh</text>
<line x1="1045" y1="766" x2="1062" y2="761.5" stroke="#222" stroke-width="0.9" />
<text x="1062" y="768.2" class="r" font-size="14" fill="#111" text-anchor="start" textLength="79.7" lengthAdjust="spacingAndGlyphs">Ч"Ч<tspan font-weight="bold">I</tspan>"ÇΥчγəă:</text>
<text x="939.3" y="781" class="r" font-size="14" fill="#111" text-anchor="start" textLength="160.7" lengthAdjust="spacingAndGlyphs">èγəЧă<tspan font-weight="bold">ç</tspan>чЧЧÇ"Δ<tspan font-weight="bold">I</tspan><tspan font-weight="bold">ħ</tspan>Ч, γ. <tspan font-weight="bold">ғ</tspan>əЧhəЧ</text>
<text x="901.7" y="820.2" class="r" font-size="12.5" fill="#111" text-anchor="start" textLength="119.2" lengthAdjust="spacingAndGlyphs">¯Й"ҒчγĂ - ӨЧ<tspan font-weight="bold">I</tspan>ΥÇ"È. ŭ.</text>
<text x="867.8" y="848.7" class="r" font-size="10.5" fill="#111" text-anchor="start" textLength="165.9" lengthAdjust="spacingAndGlyphs">ЙчÇh"Чч<tspan font-weight="bold">I</tspan>ΥчЧ0"<tspan font-weight="bold">к</tspan>ЧəЧчЧЧÇĔЧӨ"Ч<tspan font-weight="bold">I</tspan>ч<tspan font-weight="bold">I</tspan>Υ0</text>
<text x="867.8" y="861.5" class="r" font-size="10.5" fill="#111" text-anchor="start" textLength="188.8" lengthAdjust="spacingAndGlyphs"><tspan font-weight="bold">й</tspan>ЧγĔЧΘЧЧÇĔЧӨ"∧чγ<tspan font-weight="bold">ħ</tspan>γhĂ<tspan font-weight="bold">I</tspan>Υ"χÇЧ<tspan font-weight="bold">I</tspan>чhγhЧӨ</text>
<text x="867.8" y="874.9" class="r" font-size="10.5" fill="#111" text-anchor="start" textLength="27" lengthAdjust="spacingAndGlyphs"><tspan font-weight="bold">I</tspan>Ч<tspan font-weight="bold">I</tspan>hh</text>
<line x1="894" y1="873" x2="908" y2="868.5" stroke="#222" stroke-width="0.8" />
<text x="906" y="874.9" class="r" font-size="10.5" fill="#111" text-anchor="start" textLength="48" lengthAdjust="spacingAndGlyphs">Ө"Ч"ΥΥγчh</text>
<line x1="952" y1="873" x2="966" y2="868.5" stroke="#222" stroke-width="0.8" />
<text x="964" y="874.9" class="r" font-size="10.5" fill="#111" text-anchor="start" textLength="46.8" lengthAdjust="spacingAndGlyphs">Ө"Чч<tspan font-weight="bold">I</tspan>γ<tspan font-weight="bold">ħ</tspan><tspan font-weight="bold">I</tspan>Υ0</text>
<text x="1066.4" y="806.9" class="r" font-size="10" fill="#111" text-anchor="start" textLength="42" lengthAdjust="spacingAndGlyphs"><tspan font-weight="bold">й</tspan>ĂÇΥЧӨ</text>
<text x="1118.9" y="806.9" class="r" font-size="10" fill="#111" text-anchor="start" textLength="27.4" lengthAdjust="spacingAndGlyphs">ΩЧəĂ</text>
<text x="1162.7" y="806.9" class="r" font-size="10" fill="#111" text-anchor="start" textLength="45" lengthAdjust="spacingAndGlyphs">ΩЧəĂ<tspan font-weight="bold">I</tspan>Υ</text>
<text x="1080.4" y="828" class="r" font-size="13" fill="#111" text-anchor="start" textLength="16.9" lengthAdjust="spacingAndGlyphs"><tspan font-weight="bold">к</tspan>Й</text>
<text x="1127.1" y="827.6" class="s" font-size="11.7" fill="#111" text-anchor="start" textLength="12.8" lengthAdjust="spacingAndGlyphs">10</text>
<text x="1100.3" y="862.3" class="r" font-size="13" fill="#111" text-anchor="start" textLength="84" lengthAdjust="spacingAndGlyphs">ÈÈÈ""ŭч - Өhə"</text>
<text transform="translate(2.6,667) rotate(-90)" class="r" font-size="11" text-anchor="middle" fill="#111" textLength="66" lengthAdjust="spacingAndGlyphs">Взам. инв. №</text>
<text transform="translate(-0.4,754) rotate(-90)" class="r" font-size="10" text-anchor="middle" fill="#111" textLength="50" lengthAdjust="spacingAndGlyphs">Подп. и дата</text>
<text transform="translate(-0.4,845) rotate(-90)" class="r" font-size="10" text-anchor="middle" fill="#111" textLength="50" lengthAdjust="spacingAndGlyphs">Инв. № подл.</text>
</svg>
</body></html>
